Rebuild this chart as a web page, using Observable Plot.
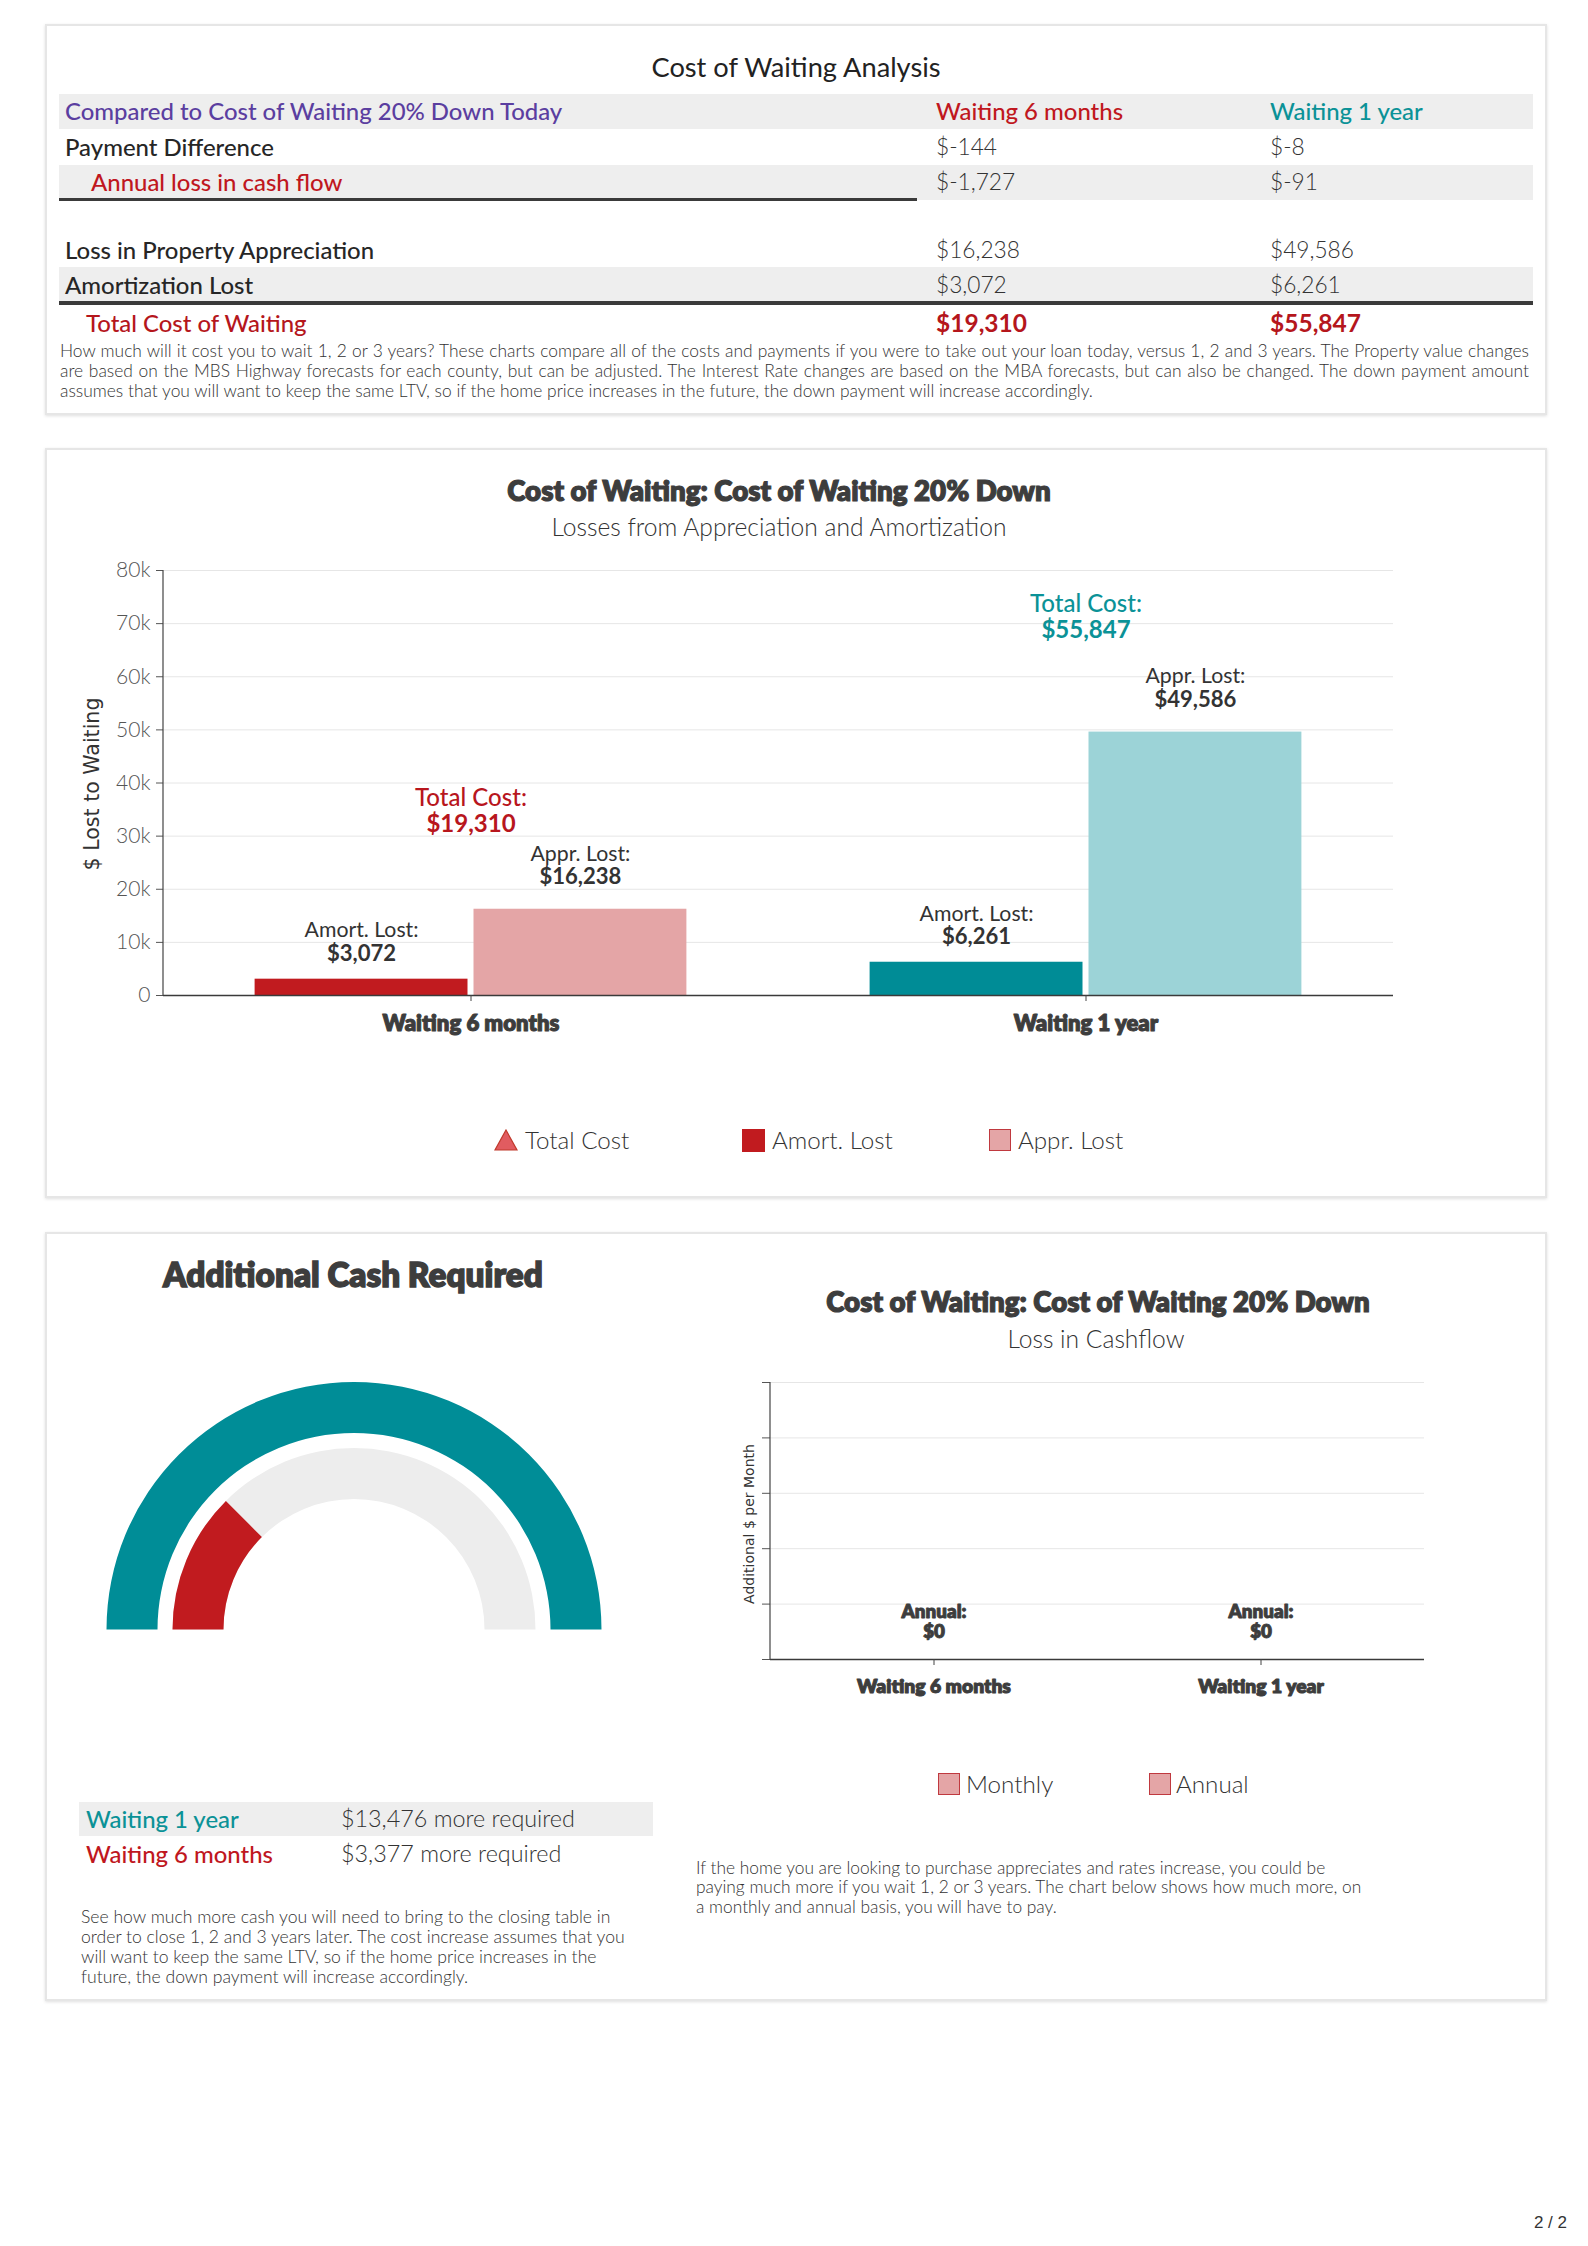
<!DOCTYPE html>
<html><head><meta charset="utf-8">
<script src="https://cdn.jsdelivr.net/npm/d3@7"></script>
<script src="https://cdn.jsdelivr.net/npm/@observablehq/plot@0.6"></script>
<style>
body{margin:0;background:#fff;font-family:Lato,"Noto Sans",sans-serif;color:#333;}
#page{position:relative;width:1588px;height:2246px;overflow:hidden;background:#fff;}
.abs{position:absolute;white-space:nowrap;line-height:1;}
.panel{position:absolute;left:45px;width:1498px;border:2px solid #e6e6e6;box-shadow:0 1px 3px rgba(0,0,0,.13);background:#fff;}
.pl{position:absolute;height:20px;line-height:20px;white-space:nowrap;font-weight:300;color:#333;}
</style></head><body><div id="page"></div>
<script>
// ---------- data ----------
const periods = ["Waiting 6 months", "Waiting 1 year"];
const paymentDifference = [-144, -8];
const annualCashFlowLoss = [-1727, -91];
const appreciationLost = [16238, 49586];
const amortizationLost = [3072, 6261];
const totalCost = [19310, 55847];
const series = ["Amort. Lost", "Appr. Lost"];
const cashPeriods = ["Waiting 1 year", "Waiting 6 months"];
const cashRequired = [13476, 3377];
const cashflowSeries = ["Monthly", "Annual"];
const monthlyCashflow = [0, 0];
const annualCashflow = [0, 0];
const yTicks = [0, 10000, 20000, 30000, 40000, 50000, 60000, 70000, 80000];

// ---------- helpers ----------
const page = document.getElementById("page");
const fmt = d3.formatLocale({decimal: ".", thousands: ",", grouping: [3], currency: ["$", ""], minus: "-"}).format(",");
const money = v => "$" + fmt(v);
const cv = document.createElement("canvas").getContext("2d");
function fit(text, target, weight = 400, family = "Lato") {
  cv.font = `${weight} 100px ${family}`;
  return 100 * target / cv.measureText(text).width;
}
function txt(s, x, y, o = {}) {
  const d = document.createElement("div");
  d.className = "abs";
  d.textContent = s;
  const ax = o.anchor === "middle" ? "-50%" : o.anchor === "end" ? "-100%" : "0";
  d.style.left = x + "px"; d.style.top = y + "px";
  d.style.transform = `translate(${ax},-50%)` + (o.rotate ? ` rotate(${o.rotate}deg)` : "");
  d.style.fontSize = (o.size || 20) + "px";
  d.style.fontWeight = o.weight || 400;
  d.style.color = o.color || "#333";
  d.style.fontFamily = o.family || "Lato, sans-serif";
  if (o.heavy) d.style.webkitTextStroke = `${o.heavy}px ${o.color || "#333"}`;
  page.appendChild(d);
  return d;
}
function box(x, y, w, h, bg, extra = "") {
  const d = document.createElement("div");
  d.style.cssText = `position:absolute;left:${x}px;top:${y}px;width:${w}px;height:${h}px;background:${bg};${extra}`;
  page.appendChild(d);
  return d;
}
function panel(top, h) {
  const d = document.createElement("div");
  d.className = "panel";
  d.style.top = top + "px"; d.style.height = h + "px";
  page.appendChild(d);
}
function paraLine(s, x, cy, w, size, justify) {
  const d = document.createElement("div");
  d.className = "pl";
  d.textContent = s;
  d.style.left = x + "px"; d.style.top = (cy - 10) + "px";
  d.style.fontSize = size + "px";
  if (justify) { d.style.width = w + "px"; d.style.textAlign = "justify"; d.style.textAlignLast = "justify"; }
  page.appendChild(d);
}
// y-axis line at the left edge of the first facet, positioned with the plot's own fx / y scales
function addAxisLine(svg, color) {
  const fx = svg.scale("fx"), y = svg.scale("y");
  const x0 = fx.apply(fx.domain[0]);
  const [a, b] = y.range;
  d3.select(svg).append("line")
    .attr("x1", x0).attr("x2", x0)
    .attr("y1", Math.min(a, b)).attr("y2", Math.max(a, b) + 0.5)
    .attr("stroke", color).attr("stroke-width", 1.2);
}

const C = {
  purple: "#5b3ea0", red: "#c0171e", teal: "#0b9297", dark: "#262626", title: "#3d3d3d",
  redTotal: "#b5161c"
};
const palette = {
  "Waiting 6 months": {"Amort. Lost": "#c11b1f", "Appr. Lost": "#e4a5a6", total: "#b8161d"},
  "Waiting 1 year": {"Amort. Lost": "#008c96", "Appr. Lost": "#9cd3d7", total: "#0b9297"}
};

const para1 = [
  "How much will it cost you to wait 1, 2 or 3 years? These charts compare all of the costs and payments if you were to take out your loan today, versus 1, 2 and 3 years. The Property value changes",
  "are based on the MBS Highway forecasts for each county, but can be adjusted. The Interest Rate changes are based on the MBA forecasts, but can also be changed. The down payment amount",
  "assumes that you will want to keep the same LTV, so if the home price increases in the future, the down payment will increase accordingly."
];
const para2 = [
  "See how much more cash you will need to bring to the closing table in",
  "order to close 1, 2 and 3 years later. The cost increase assumes that you",
  "will want to keep the same LTV, so if the home price increases in the",
  "future, the down payment will increase accordingly."
];
const para3 = [
  "If the home you are looking to purchase appreciates and rates increase, you could be",
  "paying much more if you wait 1, 2 or 3 years. The chart below shows how much more, on",
  "a monthly and annual basis, you will have to pay."
];
// font sizes calibrated to the reference text widths
const S = {
  tableTitle: fit("Cost of Waiting Analysis", 291, 400),
  tableLabel: fit("Compared to Cost of Waiting 20% Down Today", 499, 500),
  tableValue: fit("$49,586", 84, 300),
  tableTotal: fit("$55,847", 91, 700),
  para: Math.min(fit(para1[0], 1460, 300), fit(para1[1], 1460, 300), fit(para1[2], 1056, 300)),
  chartTitle: fit("Cost of Waiting: Cost of Waiting 20% Down", 545, 800),
  subtitle: fit("Losses from Appreciation and Amortization", 457, 300),
  fx1: fit("Waiting 6 months", 177, 800),
  fx2: fit("Waiting 6 months", 154, 800),
  tick: fit("80k", 34.5, 300),
  barLabel: fit("Amort. Lost:", 114, 400),
  barValue: fit("$49,586", 82, 700),
  totalLabel: fit("Total Cost:", 112, 500),
  legend: fit("Amort. Lost", 121, 300),
  bigTitle: fit("Additional Cash Required", 380, 800),
  cashLabel: fit("Waiting 6 months", 187, 500),
  cashValue: fit("$13,476 more required", 234, 300),
  smallPara: fit(para2[1], 546, 300),
  rightPara: fit(para3[1], 669, 300),
  annual: fit("Annual:", 65, 800),
  yLabel1: fit("$ Lost to Waiting", 173, 400, '"DejaVu Sans"'),
  yLabel2: fit("Additional $ per Month", 160, 400, '"DejaVu Sans"')
};

// ---------- panels ----------
panel(24, 387);
panel(448, 746);
panel(1232, 765);

// ---------- panel 1: table ----------
txt("Cost of Waiting Analysis", 796, 67, {anchor: "middle", size: S.tableTitle, color: "#222"});
box(59, 94, 1474, 35, "#eeeeee");
box(59, 165, 1474, 35, "#eeeeee");
box(59, 267, 1474, 34, "#eeeeee");
box(59, 198, 858, 3, "#3a3a3a");
box(59, 301, 1474, 4, "#3a3a3a");
const col = [65, 936, 1270];
txt("Compared to Cost of Waiting 20% Down Today", col[0], 111, {size: S.tableLabel, weight: 500, color: C.purple});
txt(periods[0], col[1], 111, {size: S.tableLabel, weight: 500, color: C.red});
txt(periods[1], col[2], 111, {size: S.tableLabel, weight: 500, color: C.teal});
const tableRows = [
  {label: "Payment Difference", vals: paymentDifference, y: 147, x: col[0], color: C.dark},
  {label: "Annual loss in cash flow", vals: annualCashFlowLoss, y: 182, x: 91, color: C.red},
  {label: "Loss in Property Appreciation", vals: appreciationLost, y: 250, x: col[0], color: C.dark},
  {label: "Amortization Lost", vals: amortizationLost, y: 285, x: col[0], color: C.dark}
];
for (const r of tableRows) {
  txt(r.label, r.x, r.y, {size: S.tableLabel, weight: 500, color: r.color});
  r.vals.forEach((v, i) => txt(money(v), col[i + 1], r.y, {size: S.tableValue, weight: 300, color: "#333"}));
}
txt("Total Cost of Waiting", 86, 323, {size: S.tableLabel, weight: 500, color: C.redTotal});
totalCost.forEach((v, i) => txt(money(v), col[i + 1], 323, {size: S.tableTotal, weight: 700, color: C.redTotal}));
para1.forEach((s, i) => paraLine(s, 60, 351 + i * 20, 1469, S.para, i < 2));

// ---------- panel 2: grouped bar chart ----------
txt("Cost of Waiting: Cost of Waiting 20% Down", 779, 491, {anchor: "middle", size: S.chartTitle, weight: 800, color: C.title, heavy: 1.1});
txt("Losses from Appreciation and Amortization", 779, 527, {anchor: "middle", size: S.subtitle, weight: 300, color: "#333"});
txt("$ Lost to Waiting", 92, 784, {anchor: "middle", rotate: -90, size: S.yLabel1, family: '"DejaVu Sans", sans-serif', color: "#333"});

const bars = periods.flatMap((p, i) => [
  {period: p, series: series[0], value: amortizationLost[i]},
  {period: p, series: series[1], value: appreciationLost[i]}
]);
const totals = periods.map((p, i) => ({period: p, value: totalCost[i]}));
const amortBars = bars.filter(d => d.series === series[0]);
const apprBars = bars.filter(d => d.series === series[1]);

const chart1 = Plot.plot({
  width: 1420, height: 510,
  marginLeft: 122, marginRight: 67, marginTop: 25, marginBottom: 60,
  style: {fontFamily: "Lato, sans-serif", color: "#333", background: "transparent", overflow: "visible"},
  fx: {domain: periods, padding: 0, label: null},
  x: {domain: series, paddingInner: 0.0274, paddingOuter: 0.4185, axis: null, round: false},
  y: {domain: [0, 80000], label: null},
  marks: [
    Plot.gridY(yTicks, {stroke: "#e6e6e6", strokeOpacity: 1}),
    Plot.barY(bars, {fx: "period", x: "series", y: "value", fill: d => palette[d.period][d.series]}),
    Plot.ruleY([0], {stroke: "#3a3a3a", strokeWidth: 1.3}),
    Plot.axisY(yTicks, {tickFormat: d3.format("~s"), tickSize: 7, tickPadding: 6, fontSize: S.tick, fontWeight: 300, label: null, stroke: "#555", fill: "#555"}),
    Plot.axisFx({anchor: "bottom", tickSize: 6, tickPadding: 14, fontSize: S.fx1, fontWeight: 800, label: null, stroke: "#444", fill: C.title, textStroke: C.title, textStrokeWidth: 1}),
    Plot.text(amortBars, {fx: "period", x: "series", y: "value", text: () => "Amort. Lost:", dy: -48.5, fontSize: S.barLabel, fill: "#333"}),
    Plot.text(amortBars, {fx: "period", x: "series", y: "value", text: d => money(d.value), dy: -25, fontSize: S.barValue, fontWeight: 700, fill: "#333"}),
    Plot.text(apprBars, {fx: "period", x: "series", y: "value", text: () => "Appr. Lost:", dy: -55.5, fontSize: S.barLabel, fill: "#333"}),
    Plot.text(apprBars, {fx: "period", x: "series", y: "value", text: d => money(d.value), dy: -32, fontSize: S.barValue, fontWeight: 700, fill: "#333"}),
    Plot.text(totals, {fx: "period", y: "value", text: () => "Total Cost:", dy: -95, fontSize: S.totalLabel, fontWeight: 500, fill: d => palette[d.period].total}),
    Plot.text(totals, {fx: "period", y: "value", text: d => money(d.value), dy: -69, fontSize: S.totalLabel, fontWeight: 700, fill: d => palette[d.period].total})
  ]
});
addAxisLine(chart1, "#444");
const c1 = document.createElement("div");
c1.style.cssText = "position:absolute;left:40px;top:545px;";
c1.appendChild(chart1);
page.appendChild(c1);

// legend for chart 1
function swatch(x, y, fill, stroke) {
  box(x, y - 11.5, stroke ? 20 : 23, stroke ? 20 : 23, fill, stroke ? `border:1.5px solid ${stroke};` : "");
}
{
  const tri = document.createElementNS("http://www.w3.org/2000/svg", "svg");
  tri.setAttribute("width", 24); tri.setAttribute("height", 22);
  tri.style.cssText = "position:absolute;left:494px;top:1129px;";
  tri.innerHTML = '<polygon points="12,1 23,21 1,21" fill="#e15c60" stroke="#c0392b" stroke-width="1.2"/>';
  page.appendChild(tri);
  txt("Total Cost", 525, 1140, {size: S.legend, weight: 300});
  swatch(742, 1140, "#c11b1f");
  txt("Amort. Lost", 772, 1140, {size: S.legend, weight: 300});
  swatch(989, 1140, "#e4a5a6", "#c0393f");
  txt("Appr. Lost", 1018, 1140, {size: S.legend, weight: 300});
}

// ---------- panel 3 left: gauge ----------
txt("Additional Cash Required", 163, 1275, {size: S.bigTitle, weight: 800, color: C.title, heavy: 1.3});
const gaugeRows = cashPeriods.map((p, i) => ({period: p, value: cashRequired[i]}));
const gaugeMax = d3.max(cashRequired);
const gaugeTrack = [{period: cashPeriods[1], value: gaugeMax}];
const gaugeColors = {"Waiting 1 year": "#008d97", "Waiting 6 months": "#c11b1f"};
function arcRender(index, scales, values, dimensions) {
  const g = d3.create("svg:g")
    .attr("transform", `translate(${dimensions.width / 2},${dimensions.height - dimensions.marginBottom})`);
  const bw = scales.y.bandwidth();
  for (const i of index) {
    g.append("path")
      .attr("fill", values.fill[i])
      .attr("d", d3.arc()({innerRadius: values.y[i], outerRadius: values.y[i] + bw, startAngle: values.x1[i], endAngle: values.x2[i]}));
  }
  return g.node();
}
const gauge = Plot.plot({
  width: 560, height: 290, marginLeft: 0, marginRight: 0, marginTop: 0, marginBottom: 20.5,
  style: {background: "transparent", overflow: "visible"},
  x: {domain: [0, gaugeMax], range: [-Math.PI / 2, Math.PI / 2], axis: null},
  y: {domain: [cashPeriods[1], cashPeriods[0]], range: [130.5, 247.5], paddingInner: 15 / 66, paddingOuter: 0, round: false, axis: null},
  marks: [
    Plot.barX(gaugeTrack, {x: "value", y: "period", fill: () => "#ededed", render: arcRender}),
    Plot.barX(gaugeRows, {x: "value", y: "period", fill: d => gaugeColors[d.period], render: arcRender})
  ]
});
const g1 = document.createElement("div");
g1.style.cssText = "position:absolute;left:74px;top:1360px;";
g1.appendChild(gauge);
page.appendChild(g1);

box(79, 1802, 574, 34, "#eeeeee");
gaugeRows.forEach((d, i) => {
  const y = 1819 + i * 35;
  txt(d.period, 86, y, {size: S.cashLabel, weight: 500, color: d.period === "Waiting 1 year" ? C.teal : C.red});
  txt(money(d.value) + " more required", 341, y, {size: S.cashValue, weight: 300, color: "#333"});
});
para2.forEach((s, i) => paraLine(s, 81, 1917 + i * 20, 0, S.smallPara, false));

// ---------- panel 3 right: cashflow chart ----------
txt("Cost of Waiting: Cost of Waiting 20% Down", 1098, 1302, {anchor: "middle", size: S.chartTitle, weight: 800, color: C.title, heavy: 1.1});
txt("Loss in Cashflow", 1096, 1339, {anchor: "middle", size: S.subtitle, weight: 300, color: "#333"});
txt("Additional $ per Month", 749, 1524, {anchor: "middle", rotate: -90, size: S.yLabel2, family: '"DejaVu Sans", sans-serif', color: "#333"});
const cash = periods.flatMap((p, i) => [
  {period: p, series: cashflowSeries[0], value: monthlyCashflow[i]},
  {period: p, series: cashflowSeries[1], value: annualCashflow[i]}
]);
const annualOnly = cash.filter(d => d.series === "Annual");
const chart2 = Plot.plot({
  width: 740, height: 339,
  marginLeft: 70, marginRight: 16, marginTop: 12, marginBottom: 50,
  style: {fontFamily: "Lato, sans-serif", color: "#333", background: "transparent", overflow: "visible"},
  fx: {domain: periods, padding: 0, label: null},
  x: {domain: cashflowSeries, padding: 0.2, axis: null},
  y: {domain: [0, 5], label: null},
  marks: [
    Plot.gridY({ticks: 5, stroke: "#e6e6e6", strokeOpacity: 1}),
    Plot.barY(cash, {fx: "period", x: "series", y: "value", fill: "#e4a5a6"}),
    Plot.ruleY([0], {stroke: "#3a3a3a", strokeWidth: 1.3}),
    Plot.axisY({ticks: 5, tickFormat: () => "", tickSize: 8, label: null, stroke: "#555"}),
    Plot.axisFx({anchor: "bottom", tickSize: 6, tickPadding: 14, fontSize: S.fx2, fontWeight: 800, label: null, stroke: "#444", fill: C.title, textStroke: C.title, textStrokeWidth: 1}),
    Plot.text(annualOnly, {fx: "period", y: "value", text: () => "Annual:", dy: -47.3, fontSize: S.annual, fontWeight: 800, fill: C.title, stroke: C.title, strokeWidth: 0.9}),
    Plot.text(annualOnly, {fx: "period", y: "value", text: d => money(d.value), dy: -27.5, fontSize: S.annual, fontWeight: 800, fill: C.title, stroke: C.title, strokeWidth: 0.9})
  ]
});
addAxisLine(chart2, "#444");
const c2 = document.createElement("div");
c2.style.cssText = "position:absolute;left:700px;top:1370px;";
c2.appendChild(chart2);
page.appendChild(c2);

swatch(938, 1784, "#e4a5a6", "#c0393f");
txt("Monthly", 966, 1784, {size: S.legend, weight: 300});
swatch(1149, 1784, "#e4a5a6", "#c0393f");
txt("Annual", 1176, 1784, {size: S.legend, weight: 300});
para3.forEach((s, i) => paraLine(s, 696, 1867.5 + i * 19.7, 0, S.rightPara, false));

// page number
txt("2 / 2", 1567, 2222, {anchor: "end", size: 17, family: '"Liberation Sans", sans-serif', color: "#333"});
</script></body></html>
